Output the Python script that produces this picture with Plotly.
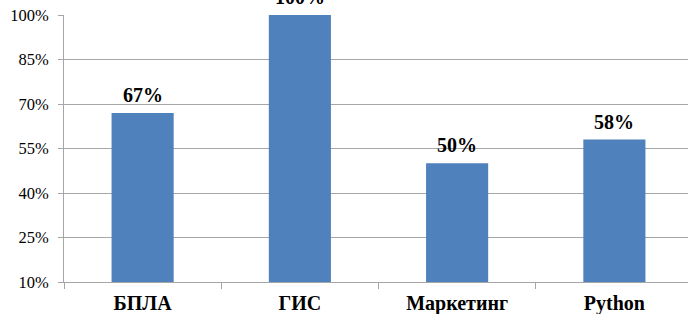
import plotly.graph_objects as go

categories = ["БПЛА", "ГИС", "Маркетинг", "Python"]
values = [67, 100, 50, 58]
y_ticks = [10, 25, 40, 55, 70, 85, 100]
y_tick_labels = [f"{v}%" for v in y_ticks]

bar_color = "#4F81BD"
grid_color = "#A6A6A6"
serif = "Liberation Serif"

fig = go.Figure()
fig.add_trace(go.Bar(
    x=categories, y=values, marker=dict(color=bar_color, line=dict(width=0)),
    cliponaxis=False,
))

for c, v in zip(categories, values):
    fig.add_annotation(
        x=c, y=v, text=f"<b>{v}%</b>", showarrow=False,
        yanchor="middle", yshift=18,
        font=dict(family=serif, size=20, color="#000000"),
    )

fig.update_layout(
    width=693, height=314,
    margin=dict(l=64, r=0, t=15, b=32),
    paper_bgcolor="white", plot_bgcolor="white",
    bargap=0.605,
    showlegend=False,
    font=dict(family=serif, color="#000000"),
)
fig.update_xaxes(
    type="category",
    tickvals=categories, ticktext=[f"<b>{c}</b>" for c in categories],
    showline=True, linecolor=grid_color, linewidth=1,
    ticks="outside", tickson="boundaries", ticklen=6, tickcolor=grid_color,
    tickfont=dict(family=serif, size=20, color="#000000"),
    ticklabelstandoff=3,
    showgrid=False,
)
fig.update_yaxes(
    range=[10, 100],
    tickvals=y_ticks, ticktext=y_tick_labels,
    showline=True, linecolor=grid_color, linewidth=1,
    ticks="outside", ticklen=5, tickcolor=grid_color,
    showgrid=True, gridcolor=grid_color, gridwidth=1,
    tickfont=dict(family=serif, size=16.5, color="#000000"),
    zeroline=False,
    ticklabelstandoff=6,
)

fig.write_html(
    "out.html",
    config={"displayModeBar": False},
    post_script="document.body.style.margin='0';document.body.style.overflow='hidden';",
)
